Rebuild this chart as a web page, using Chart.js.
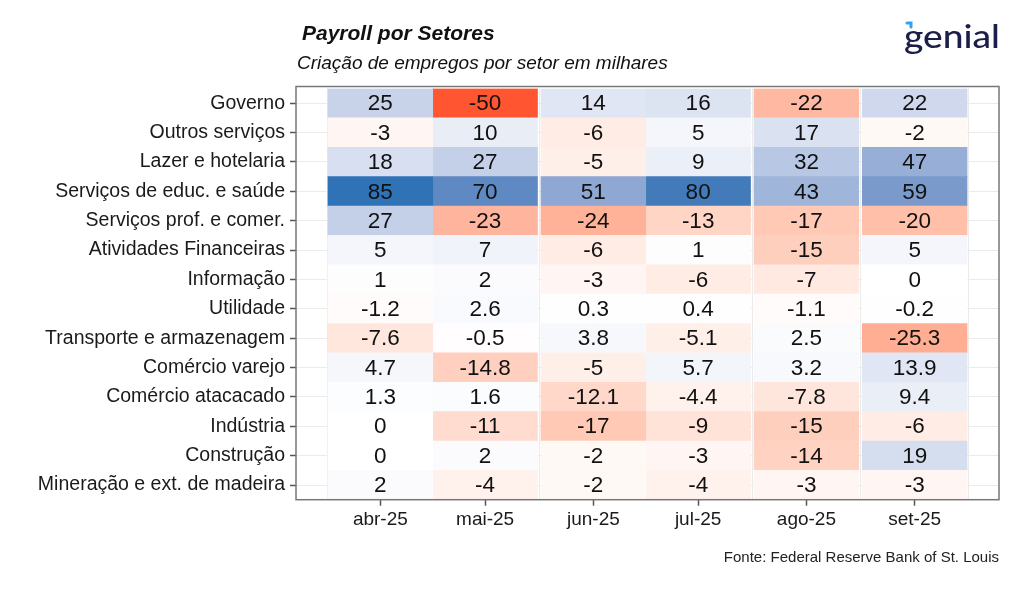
<!DOCTYPE html>
<html>
<head>
<meta charset="utf-8">
<script src="https://cdn.jsdelivr.net/npm/chart.js@4.4.1/dist/chart.umd.min.js"></script>
<style>
  html, body { margin: 0; padding: 0; background: #fff; }
  #wrap { width: 1024px; height: 590px; }
</style>
</head>
<body>
<div id="wrap"><canvas id="chart" width="1024" height="590"></canvas></div>
<script>
const sectors = [
    'Governo', 'Outros serviços', 'Lazer e hotelaria', 'Serviços de educ. e saúde',
    'Serviços prof. e comer.', 'Atividades Financeiras', 'Informação', 'Utilidade',
    'Transporte e armazenagem', 'Comércio varejo', 'Comércio atacacado', 'Indústria',
    'Construção', 'Mineração e ext. de madeira'
];
const months = ['abr-25', 'mai-25', 'jun-25', 'jul-25', 'ago-25', 'set-25'];
const monthDates = ['2025-04-01', '2025-05-01', '2025-06-01', '2025-07-01', '2025-08-01', '2025-09-01'];

// one array per month, same order as sectors
const abr25 = [25, -3, 18, 85, 27, 5, 1, -1.2, -7.6, 4.7, 1.3, 0, 0, 2];
const mai25 = [-50, 10, 27, 70, -23, 7, 2, 2.6, -0.5, -14.8, 1.6, -11, 2, -4];
const jun25 = [14, -6, -5, 51, -24, -6, -3, 0.3, 3.8, -5, -12.1, -17, -2, -2];
const jul25 = [16, 5, 9, 80, -13, 1, -6, 0.4, -5.1, 5.7, -4.4, -9, -3, -4];
const ago25 = [-22, 17, 32, 43, -17, -15, -7, -1.1, 2.5, 3.2, -7.8, -15, -14, -3];
const set25 = [22, -2, 47, 59, -20, 5, 0, -0.2, -25.3, 13.9, 9.4, -6, 19, -3];
const values = [abr25, mai25, jun25, jul25, ago25, set25];

// days from the first month, tiles are 30 days wide like geom_tile on dates
const DAY = 86400000;
const t0 = Date.parse(monthDates[0]);
const offsets = monthDates.map(d => Math.round((Date.parse(d) - t0) / DAY));
const half = 15;
const minorTicks = [offsets[0] - half];
for (let i = 1; i < offsets.length; i++) minorTicks.push((offsets[i - 1] + offsets[i]) / 2);
minorTicks.push(offsets[offsets.length - 1] + half + 0.5);
const span = (offsets[offsets.length - 1] + half) - (offsets[0] - half);
const xMin = offsets[0] - half - span * 0.05;
const xMax = offsets[offsets.length - 1] + half + span * 0.05;

// colour scale: red - white - blue, interpolated in Lab
const LOW = [255, 85, 48], HIGH = [47, 114, 182], MID = [255, 255, 255];
const LOW_LIM = -50, HIGH_LIM = 85;

function toLin(c) { c /= 255; return c <= 0.04045 ? c / 12.92 : Math.pow((c + 0.055) / 1.055, 2.4); }
function fromLin(c) { c = c <= 0.0031308 ? 12.92 * c : 1.055 * Math.pow(c, 1 / 2.4) - 0.055; return Math.max(0, Math.min(255, Math.round(c * 255))); }
function rgb2lab(rgb) {
    const [r, g, b] = rgb.map(toLin);
    let x = (r * 0.4124 + g * 0.3576 + b * 0.1805) / 0.95047;
    let y = (r * 0.2126 + g * 0.7152 + b * 0.0722);
    let z = (r * 0.0193 + g * 0.1192 + b * 0.9505) / 1.08883;
    const f = t => t > 0.008856 ? Math.cbrt(t) : 7.787 * t + 16 / 116;
    x = f(x); y = f(y); z = f(z);
    return [116 * y - 16, 500 * (x - y), 200 * (y - z)];
}
function lab2rgb(lab) {
    const fy = (lab[0] + 16) / 116, fx = fy + lab[1] / 500, fz = fy - lab[2] / 200;
    const inv = t => t > 0.206893 ? t * t * t : (t - 16 / 116) / 7.787;
    const x = inv(fx) * 0.95047, y = inv(fy), z = inv(fz) * 1.08883;
    const r = x * 3.2406 + y * -1.5372 + z * -0.4986;
    const g = x * -0.9689 + y * 1.8758 + z * 0.0415;
    const b = x * 0.0557 + y * -0.2040 + z * 1.0570;
    return [fromLin(r), fromLin(g), fromLin(b)];
}
const labLow = rgb2lab(LOW), labHigh = rgb2lab(HIGH), labMid = rgb2lab(MID);
function fill(v) {
    let t, end;
    if (v >= 0) { t = Math.min(1, v / HIGH_LIM); end = labHigh; }
    else { t = Math.min(1, v / LOW_LIM); end = labLow; }
    const lab = labMid.map((m, i) => m + (end[i] - m) * t);
    const c = lab2rgb(lab);
    return `rgb(${c[0]},${c[1]},${c[2]})`;
}

const datasets = months.map((m, i) => ({
    label: m,
    data: values[i].map(() => [offsets[i] - half, offsets[i] + half]),
    backgroundColor: values[i].map(fill),
    borderWidth: 0,
    grouped: false,
    barPercentage: 1,
    categoryPercentage: 1
}));

const FONT = '"Liberation Sans", Arial, sans-serif';

const decor = {
    id: 'decor',
    afterDatasetsDraw(chart) {
        const ctx = chart.ctx;
        ctx.save();
        ctx.font = `22.5px ${FONT}`;
        ctx.fillStyle = '#111';
        ctx.textAlign = 'center';
        ctx.textBaseline = 'middle';
        chart.data.datasets.forEach((ds, i) => {
            chart.getDatasetMeta(i).data.forEach((bar, j) => {
                const p = bar.getCenterPoint();
                ctx.fillText(String(values[i][j]), p.x, p.y + 1);
            });
        });
        ctx.restore();
    },
    afterDraw(chart) {
        const ctx = chart.ctx;
        const a = chart.chartArea;
        ctx.save();
        // panel border sits a little above the first row of tiles
        ctx.strokeStyle = '#777';
        ctx.lineWidth = 1.5;
        ctx.strokeRect(a.left, a.top - 2, a.right - a.left, a.bottom - a.top + 2);

        ctx.fillStyle = '#111';
        ctx.textBaseline = 'alphabetic';
        ctx.textAlign = 'left';
        ctx.font = `italic bold 21px ${FONT}`;
        ctx.fillText('Payroll por Setores', 302, 40);
        ctx.font = `italic 19px ${FONT}`;
        ctx.fillText('Criação de empregos por setor em milhares', 297, 69);

        ctx.textAlign = 'right';
        ctx.font = `15px ${FONT}`;
        ctx.fillStyle = '#222';
        ctx.fillText('Fonte: Federal Reserve Bank of St. Louis', 999, 562);

        // logo
        ctx.font = '500 32px Lato, "Noto Sans", sans-serif';
        ctx.fillStyle = '#1b1e48';
        ctx.textAlign = 'left';
        const w = ctx.measureText('genial').width;
        ctx.translate(904, 48);
        ctx.scale(96 / w, 1);
        ctx.fillText('genial', 0, 0);
        ctx.restore();
        ctx.save();
        ctx.strokeStyle = '#2ea3f2';
        ctx.lineWidth = 3;
        ctx.lineCap = 'round';
        ctx.beginPath();
        ctx.moveTo(907, 23);
        ctx.lineTo(911, 23);
        ctx.lineTo(911, 27);
        ctx.stroke();
        ctx.restore();
    }
};

new Chart(document.getElementById('chart'), {
    type: 'bar',
    data: { labels: sectors, datasets: datasets },
    options: {
        indexAxis: 'y',
        responsive: false,
        animation: false,
        events: [],
        layout: { padding: { left: 0, right: 25, top: 88.5, bottom: 0 } },
        plugins: { legend: { display: false }, tooltip: { enabled: false } },
        scales: {
            y: {
                type: 'category',
                offset: true,
                grid: { offset: false, color: '#ebebeb', lineWidth: 1, tickLength: 6, tickColor: '#555', tickWidth: 1.5 },
                border: { display: false },
                ticks: { font: { family: FONT, size: 19.5 }, color: '#1a1a1a', padding: 5, autoSkip: false },
                afterFit: s => { s.width = 296; }
            },
            x: {
                type: 'linear',
                min: xMin,
                max: xMax,
                afterBuildTicks: s => {
                    s.ticks = offsets.map(v => ({ value: v, major: true }))
                        .concat(minorTicks.map(v => ({ value: v, major: false })));
                },
                grid: {
                    color: '#ebebeb',
                    lineWidth: 1,
                    tickLength: 6,
                    tickWidth: 1.5,
                    tickColor: c => (c.tick && c.tick.major) ? '#555' : 'rgba(0,0,0,0)'
                },
                border: { display: false },
                ticks: {
                    autoSkip: false,
                    maxRotation: 0,
                    padding: 3,
                    font: { family: FONT, size: 19 },
                    color: '#1a1a1a',
                    callback: v => {
                        const i = offsets.indexOf(v);
                        return i >= 0 ? months[i] : '';
                    }
                },
                afterFit: s => { s.height = 90.3; }
            }
        }
    },
    plugins: [decor]
});
</script>
</body>
</html>
